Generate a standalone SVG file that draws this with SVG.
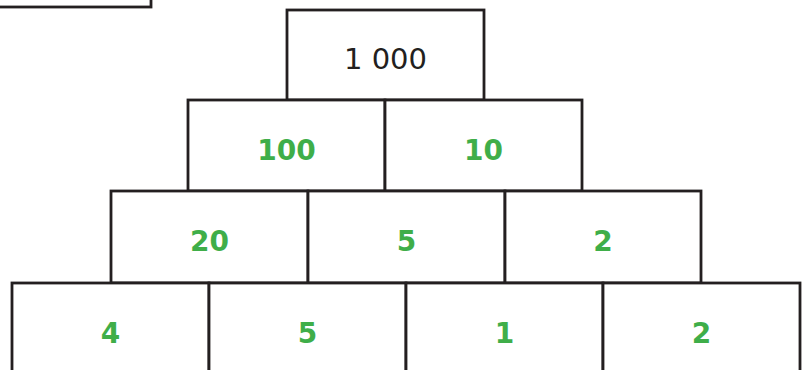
<svg xmlns="http://www.w3.org/2000/svg" width="808" height="370" viewBox="0 0 808 370">
<style>
.b{fill:#fff;stroke:#231f20;stroke-width:2.8}
.k{font-family:"DejaVu Sans","Liberation Sans",sans-serif;font-size:29px;fill:#231f20;text-anchor:middle}
.g{font-family:"DejaVu Sans","Liberation Sans",sans-serif;font-size:28px;font-weight:bold;fill:#3fae49;text-anchor:middle}
</style>
<rect width="808" height="370" fill="#fff"/>
<g id="corner"><rect class="b" x="-10" y="-10" width="161" height="17"/></g>
<g id="n1000"><rect class="b" x="287" y="10" width="197" height="90"/><text class="k" x="385.5" y="69">1 000</text></g>
<g id="n100"><rect class="b" x="188" y="100" width="197" height="91"/><text class="g" x="286.5" y="160">100</text></g>
<g id="n10"><rect class="b" x="385" y="100" width="197" height="91"/><text class="g" x="483.5" y="160">10</text></g>
<g id="n20"><rect class="b" x="111" y="191" width="197" height="92"/><text class="g" x="209.5" y="251">20</text></g>
<g id="n5a"><rect class="b" x="308" y="191" width="197" height="92"/><text class="g" x="406.5" y="251">5</text></g>
<g id="n2a"><rect class="b" x="505" y="191" width="196" height="92"/><text class="g" x="603" y="251">2</text></g>
<g id="n4"><rect class="b" x="12" y="283" width="197" height="100"/><text class="g" x="110.5" y="343">4</text></g>
<g id="n5b"><rect class="b" x="209" y="283" width="197" height="100"/><text class="g" x="307.5" y="343">5</text></g>
<g id="n1"><rect class="b" x="406" y="283" width="197" height="100"/><text class="g" x="504.5" y="343">1</text></g>
<g id="n2b"><rect class="b" x="603" y="283" width="197" height="100"/><text class="g" x="701.5" y="343">2</text></g>
<g id="connectors"></g>
</svg>
